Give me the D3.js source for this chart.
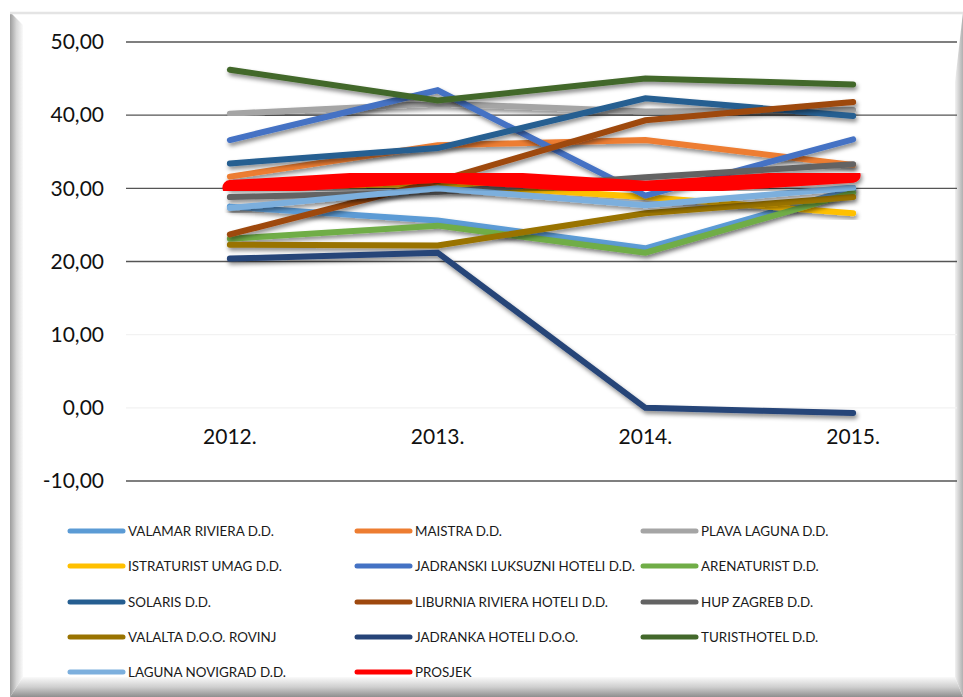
<!DOCTYPE html>
<html lang="hr">
<head>
<meta charset="utf-8">
<title>Hoteli 2012-2015</title>
<script src="https://cdn.jsdelivr.net/npm/d3@7"></script>
<style>
  body { margin: 0; background: #fff; }
  svg { display: block; font-family: Lato, "Open Sans", sans-serif; }
</style>
</head>
<body>
<script>
// data
var years = ["2012.", "2013.", "2014.", "2015."]
var yTicks = [-10, 0, 10, 20, 30, 40, 50]

var valamar     = [27.5, 25.6, 21.8, 29.9]
var maistra     = [31.6, 35.9, 36.6, 33.2]
var plavaLaguna = [40.2, 41.6, 40.5, 40.7]
var istraturist = [30.2, 30.6, 28.8, 26.6]
var jadranski   = [36.6, 43.4, 29.0, 36.7]
var arenaturist = [23.1, 24.9, 21.2, 29.4]
var solaris     = [33.4, 35.5, 42.3, 39.9]
var liburnia    = [23.7, 31.0, 39.3, 41.8]
var hupZagreb   = [28.8, 29.5, 31.5, 33.3]
var valalta     = [22.3, 22.2, 26.6, 28.8]
var jadranka    = [20.4, 21.2, 0.0, -0.7]
var turisthotel = [46.2, 42.0, 45.0, 44.2]
var lagunaNovi  = [27.3, 30.0, 27.7, 30.1]
var prosjek     = [30.1, 31.8, 30.0, 31.8]

var series = [
  { name: "VALAMAR RIVIERA D.D.",            values: valamar,     color: "#5B9BD5" },
  { name: "MAISTRA D.D.",                    values: maistra,     color: "#ED7D31" },
  { name: "PLAVA LAGUNA D.D.",               values: plavaLaguna, color: "#A5A5A5" },
  { name: "ISTRATURIST UMAG D.D.",           values: istraturist, color: "#FFC000" },
  { name: "JADRANSKI LUKSUZNI HOTELI D.D.",  values: jadranski,   color: "#4472C4" },
  { name: "ARENATURIST D.D.",                values: arenaturist, color: "#70AD47" },
  { name: "SOLARIS D.D.",                    values: solaris,     color: "#255E91" },
  { name: "LIBURNIA RIVIERA HOTELI D.D.",    values: liburnia,    color: "#9E480E" },
  { name: "HUP ZAGREB D.D.",                 values: hupZagreb,   color: "#636363" },
  { name: "VALALTA D.O.O. ROVINJ",           values: valalta,     color: "#997300" },
  { name: "JADRANKA HOTELI D.O.O.",          values: jadranka,    color: "#264478" },
  { name: "TURISTHOTEL D.D.",                values: turisthotel, color: "#43682B" },
  { name: "LAGUNA NOVIGRAD D.D.",            values: lagunaNovi,  color: "#7CAFDD" },
  { name: "PROSJEK",                         values: prosjek,     color: "#FF0000" }
]

var w = 963
var h = 697

var svg = d3.select("body").append("svg")
  .attr("width", w)
  .attr("height", h)

var defs = svg.append("defs")

defs.append("filter")
  .attr("id", "shadow")
  .attr("x", "-10%").attr("y", "-10%")
  .attr("width", "120%").attr("height", "130%")
  .append("feDropShadow")
  .attr("dx", 1.5).attr("dy", 3)
  .attr("stdDeviation", 2)
  .attr("flood-color", "#000")
  .attr("flood-opacity", 0.45)

function grad(id, x1, y1, x2, y2, stops) {
  var g = defs.append("linearGradient").attr("id", id)
    .attr("x1", x1).attr("y1", y1).attr("x2", x2).attr("y2", y2)
  stops.forEach(function (s) {
    g.append("stop").attr("offset", s[0]).attr("stop-color", s[1])
  })
}
grad("bevL", 0, 0, 1, 0, [[0, "#9c9c9c"], [0.5, "#d8d8d8"], [1, "#fafafa"]])
grad("bevB", 0, 1, 0, 0, [[0, "#8e8e8e"], [0.5, "#cfcfcf"], [1, "#fafafa"]])
grad("bevR", 1, 0, 0, 0, [[0, "#b0b0b0"], [1, "#f2f2f2"]])

// bevelled frame
var fx0 = 10, fy0 = 12, fx1 = 963, fy1 = 697
var bl = 13, bb = 20, br = 8, bt = 3
svg.append("rect")
  .attr("x", fx0).attr("y", fy0)
  .attr("width", fx1 - fx0).attr("height", fy1 - fy0)
  .attr("fill", "#fff")
svg.append("polygon")
  .attr("points", [[fx0, fy0], [fx0 + bl, fy0 + bt + 10], [fx0 + bl, fy1 - bb], [fx0, fy1]].join(" "))
  .attr("fill", "url(#bevL)")
svg.append("polygon")
  .attr("points", [[fx0, fy1], [fx0 + bl, fy1 - bb], [fx1 - br, fy1 - bb], [fx1, fy1]].join(" "))
  .attr("fill", "url(#bevB)")
svg.append("polygon")
  .attr("points", [[fx1, fy0], [fx1 - br, fy0 + 70], [fx1 - br, fy1 - bb], [fx1, fy1]].join(" "))
  .attr("fill", "url(#bevR)")
svg.append("line")
  .attr("x1", fx0).attr("y1", fy0 + 1).attr("x2", fx1).attr("y2", fy0 + 1)
  .attr("stroke", "#e4e4e4").attr("stroke-width", 2.5)

// scales
var x = d3.scaleBand().domain(years).range([126, 957])
var y = d3.scaleLinear().domain([-10, 50]).range([481, 42])
// comma decimal, plain hyphen for the minus
var fmt = function (v) { return d3.format(".2f")(v).replace(".", ",").replace("\u2212", "-") }

// gridlines
svg.append("g").selectAll("line")
  .data(yTicks)
  .enter().append("line")
  .attr("x1", 126).attr("x2", 957)
  .attr("y1", function (d) { return y(d) })
  .attr("y2", function (d) { return y(d) })
  .attr("stroke", function (d) { return (d == 0 || d == 10) ? "#f2f2f2" : "#555" })
  .attr("stroke-width", 1.3)

// y axis labels
var yAxis = d3.axisLeft(y).tickValues(yTicks).tickFormat(fmt).tickSize(0).tickPadding(0)
var gy = svg.append("g").attr("transform", "translate(104,0)").call(yAxis)
gy.select(".domain").remove()
gy.selectAll("text")
  .attr("font-size", 21).attr("fill", "#111")
  .attr("font-family", "Lato, sans-serif")

// category labels
var xAxis = d3.axisBottom(x).tickSize(0).tickPadding(0)
var gx = svg.append("g").attr("transform", "translate(0,429)").call(xAxis)
gx.select(".domain").remove()
gx.selectAll("text")
  .attr("font-size", 21).attr("fill", "#111")
  .attr("font-family", "Lato, sans-serif")

// lines
var line = d3.line()
  .x(function (d, i) { return x(years[i]) + x.bandwidth() / 2 })
  .y(function (d) { return y(d) })

svg.append("g").selectAll("path")
  .data(series)
  .enter().append("path")
  .attr("d", function (d) { return line(d.values) })
  .attr("fill", "none")
  .attr("stroke", function (d) { return d.color })
  .attr("stroke-width", function (d) { return d.name == "PROSJEK" ? 15 : 6 })
  .attr("stroke-linecap", "round")
  .attr("stroke-linejoin", "miter")
  .attr("filter", "url(#shadow)")

// legend
var colX = [70, 357, 643]
var rowY = [531, 566, 602, 637, 672]
var leg = svg.append("g").selectAll("g")
  .data(series)
  .enter().append("g")
  .attr("transform", function (d, i) {
    return "translate(" + colX[i % 3] + "," + rowY[Math.floor(i / 3)] + ")"
  })
leg.append("line")
  .attr("x1", 0).attr("x2", 53).attr("y1", 0).attr("y2", 0)
  .attr("stroke", function (d) { return d.color })
  .attr("stroke-width", 5)
  .attr("stroke-linecap", "round")
leg.append("text")
  .attr("x", 58).attr("y", 0).attr("dy", "0.35em")
  .attr("font-size", 13.4).attr("fill", "#1a1a1a")
  .text(function (d) { return d.name })
</script>
</body>
</html>
